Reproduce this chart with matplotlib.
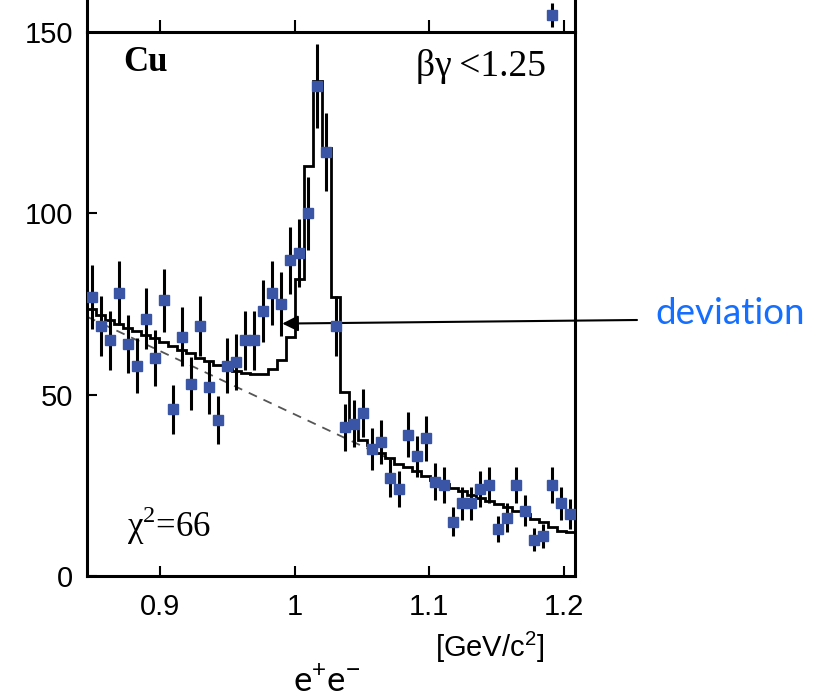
import matplotlib
matplotlib.use("Agg")
import matplotlib.pyplot as plt
import numpy as np

plt.rcParams["mathtext.fontset"] = "custom"
plt.rcParams["mathtext.rm"] = "Liberation Serif"
plt.rcParams["mathtext.sf"] = "Liberation Sans"

# e+e- invariant mass spectrum, Cu target, beta*gamma < 1.25
mass = [0.8490, 0.8557, 0.8624, 0.8691, 0.8759, 0.8826, 0.8893, 0.8960,
        0.9027, 0.9094, 0.9162, 0.9229, 0.9296, 0.9363, 0.9430, 0.9498,
        0.9565, 0.9632, 0.9699, 0.9766, 0.9834, 0.9901, 0.9968, 1.0035,
        1.0102, 1.0170, 1.0237, 1.0304, 1.0371, 1.0438, 1.0506, 1.0573,
        1.0640, 1.0707, 1.0774, 1.0842, 1.0909, 1.0976, 1.1043, 1.1110,
        1.1178, 1.1245, 1.1312, 1.1379, 1.1446, 1.1514, 1.1581, 1.1648,
        1.1715, 1.1782, 1.1850, 1.1917, 1.1984, 1.2051]
counts = [77, 69, 65, 78, 64, 58, 71, 60, 76, 46,
          66, 53, 69, 52, 43, 58, 59, 65, 65, 73,
          78, 75, 87, 89, 100, 135, 117, 69, 41, 42,
          45, 35, 37, 27, 24, 39, 33, 38, 26, 25,
          15, 20, 20, 24, 25, 13, 16, 25, 18, 10,
          11, 25, 20, 17]
count_err = [8.8, 8.3, 8.1, 8.8, 8.0, 7.6, 8.4, 7.7, 8.7, 6.8,
             8.1, 7.3, 8.3, 7.2, 6.6, 7.6, 7.7, 8.1, 8.1, 8.5,
             8.8, 8.7, 9.3, 9.4, 10.0, 11.6, 10.8, 8.3, 6.4, 6.5,
             6.7, 5.9, 6.1, 5.2, 4.9, 6.2, 5.7, 6.2, 5.1, 5.0,
             3.9, 4.5, 4.5, 4.9, 5.0, 3.6, 4.0, 5.0, 4.2, 3.2,
             3.3, 5.0, 4.5, 4.1]
# fitted spectrum (background + resonance), per bin
fit_counts = [73.5, 72.0, 70.5, 69.5, 68.5, 67.5, 66.5, 65.5, 64.5, 63.3,
              62.4, 61.5, 60.2, 59.2, 58.2, 57.2, 56.4, 56.0, 55.8, 55.8,
              57.0, 59.5, 66.0, 82.0, 113.0, 136.5, 118.0, 77.0, 50.8, 43.0,
              37.5, 36.0, 34.0, 32.5, 31.0, 30.0, 29.0, 27.5, 26.5, 25.4,
              24.3, 23.3, 22.4, 21.6, 20.8, 19.9, 19.0, 18.0, 17.0, 15.8,
              14.8, 13.5, 12.4, 12.2]
# background-only curve
bg_mass = [0.8456, 1.075]
bg_counts = [71.5, 31.5]

# lowest visible point of the panel above
upper_mass = [1.1917]
upper_counts = [4.7]
upper_err = [3.3]

xticks = [0.9, 1.0, 1.1, 1.2]
xtick_labels = ["0.9", "1", "1.1", "1.2"]
yticks = [0, 50, 100, 150]

marker_color = "#3a55a6"
W, H = 830, 697
fig = plt.figure(figsize=(W / 100, H / 100), dpi=100)

ax_l, ax_r, ax_t, ax_b = 87, 575, 32, 576
ax = fig.add_axes([ax_l / W, 1 - ax_b / H, (ax_r - ax_l) / W, (ax_b - ax_t) / H])
ax_up = fig.add_axes([ax_l / W, 1 - ax_t / H, (ax_r - ax_l) / W, ax_t / H])

xlim = (0.8456, 1.2085)

# bin edges from bin centres
m = np.asarray(mass)
half = (m[1] - m[0]) / 2
edges = np.concatenate([m - half, [m[-1] + half]])

ax.plot(bg_mass, bg_counts, color="#555555", lw=1.3, ls=(0, (5, 4)), zorder=1)
ax.stairs(fit_counts, edges, color="black", lw=2.0, zorder=2, baseline=None)
ax.errorbar(mass, counts, yerr=count_err, fmt="none", ecolor="black",
            elinewidth=2.2, capsize=0, zorder=3)
ax.plot(mass, counts, ls="none", marker="s", ms=7.6, color=marker_color,
        mec=marker_color, zorder=4)

ax.set_xlim(*xlim)
ax.set_ylim(0, 150)
ax.set_xticks(xticks)
ax.set_xticklabels(xtick_labels)
ax.set_yticks(yticks)
for lab in ax.get_xticklabels() + ax.get_yticklabels():
    lab.set_fontfamily("Liberation Sans")
    lab.set_fontsize(21)
ax.tick_params(axis="both", direction="in", length=7, width=1.5, top=False,
               right=False, pad=10)
ax.tick_params(axis="x", pad=12)
for side in ["left", "right", "bottom"]:
    ax.spines[side].set_linewidth(2.2)
ax.spines["top"].set_visible(False)

# panel above (only its bottom strip is visible)
ax_up.errorbar(upper_mass, upper_counts, yerr=upper_err, fmt="none",
               ecolor="black", elinewidth=2.2, capsize=0, clip_on=True)
ax_up.plot(upper_mass, upper_counts, ls="none", marker="s", ms=7.6,
           color=marker_color, mec=marker_color)
ax_up.set_xlim(*xlim)
ax_up.set_ylim(0, 32 / 3.62)
ax_up.set_xticks(xticks)
ax_up.set_xticklabels([])
ax_up.set_yticks([])
ax_up.tick_params(axis="x", direction="in", length=8.5, width=1.5)
ax_up.spines["top"].set_visible(False)
for side in ["left", "right", "bottom"]:
    ax_up.spines[side].set_linewidth(2.2)

# panel annotations
ax.text(0.8722, 139.2, "Cu", fontfamily="Liberation Serif", fontweight="bold",
        fontsize=25, va="baseline", ha="left")
ax.text(1.090, 137.8, "βγ\u2009<1.25", fontfamily="Liberation Serif", fontsize=27,
        va="baseline", ha="left")
ax.text(0.8754, 10.8, "χ$^{2}$=66", fontfamily="Liberation Serif", fontsize=25,
        va="baseline", ha="left")

fig.text(490 / W, 1 - 647 / H, r"[GeV/c$^{\mathsf{2}}$]", fontfamily="Liberation Sans",
         fontsize=21, ha="center", va="center")

# arrow pointing at the excess below the peak
ax.annotate("", xy=(0.9908, 69.6), xycoords="data",
            xytext=(637 / W, 1 - 320 / H), textcoords="figure fraction",
            arrowprops=dict(arrowstyle="-|>", color="black", lw=1.5,
                            mutation_scale=24, shrinkA=0, shrinkB=0),
            annotation_clip=False)
fig.text(655 / W, 1 - 313 / H, "deviation", fontfamily="Lato", fontsize=26.5,
         color="#146eff", ha="left", va="center")
fig.text(327 / W, 1 - 691 / H, r"e$^{\mathsf{+}}$e$^{\mathsf{-}}$", fontfamily="Lato",
         fontsize=25, ha="center", va="baseline")

fig.savefig("out.png", dpi=100)
